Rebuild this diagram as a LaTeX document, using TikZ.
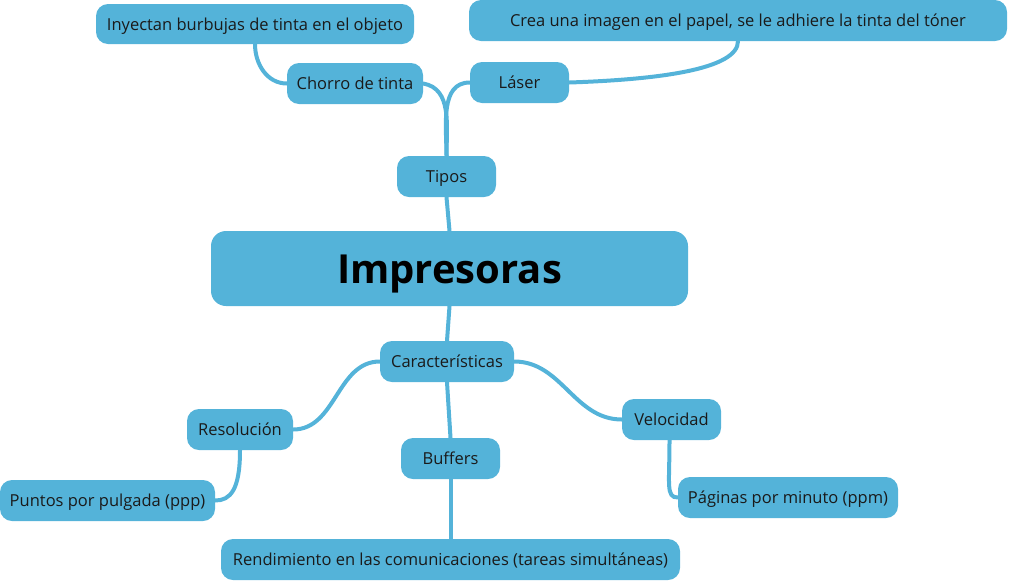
\documentclass[tikz,border=0pt]{standalone}
\usepackage{fontspec}
\setmainfont{Open Sans}
\definecolor{boxblue}{HTML}{54B3D9}
\definecolor{inkgray}{HTML}{1A1A1A}
\tikzset{
  topic/.style={fill=boxblue, rounded corners=12pt, inner sep=0pt, minimum height=41pt,
    text height=13pt, text depth=1pt, text=inkgray, font=\fontsize{16.5}{19}\selectfont},
  link/.style={draw=boxblue, line width=4pt, line cap=round}
}
\begin{document}
\begin{tikzpicture}[x=1pt, y=-1pt]
  \useasboundingbox (0,0) rectangle (1009,582);
  % central topic
  \node[topic, minimum width=477pt, minimum height=75pt, rounded corners=15pt, text height=29pt, text depth=0pt,
    text=black, font=\fontsize{40}{48}\selectfont\bfseries] (impresoras) at (449.5,268.5) {Impresoras};
  % tipos
  \node[topic, minimum width=99pt] (tipos) at (446.5,176.5) {Tipos};
  \node[topic, minimum width=136pt] (chorro) at (355,83.5) {Chorro de tinta};
  \node[topic, minimum width=99pt] (laser) at (519.5,82.5) {Láser};
  \node[topic, minimum width=318pt, minimum height=40pt] (inyectan) at (255,24) {Inyectan burbujas de tinta en el objeto};
  \node[topic, minimum width=538pt] (crea) at (738,20.5) {Crea una imagen en el papel, se le adhiere la tinta del tóner};
  % caracteristicas
  \node[topic, minimum width=134pt] (caract) at (447,361.5) {Características};
  \node[topic, minimum width=106pt] (resol) at (240,429.5) {Resolución};
  \node[topic, minimum width=99pt] (veloc) at (671.5,419.5) {Velocidad};
  \node[topic, minimum width=99pt] (buffers) at (450.5,458.5) {Buffers};
  \node[topic, minimum width=215pt] (puntos) at (107.5,500.5) {Puntos por pulgada (ppp)};
  \node[topic, minimum width=220pt] (paginas) at (788,497.5) {Páginas por minuto (ppm)};
  \node[topic, minimum width=459pt] (rend) at (450.5,559.5) {Rendimiento en las comunicaciones (tareas simultáneas)};
  % connectors
  \draw[link] (impresoras.north) -- (tipos.south);
  \draw[link] (tipos.north) to[out=90, in=-10] (chorro.east);
  \draw[link] (tipos.north) to[out=90, in=180] (laser.west);
  \draw[link] (inyectan.south) to[out=-90, in=180] (chorro.west);
  \draw[link] (crea.south) .. controls +(0,28) and +(90,-3) .. (laser.east);
  \draw[link] (impresoras.south) -- (caract.north);
  \draw[link] (caract.west) to[out=180, in=0] (resol.east);
  \draw[link] (caract.east) to[out=0, in=180] (veloc.west);
  \draw[link] (caract.south) -- (buffers.north);
  \draw[link] (resol.south) .. controls +(0,40) and +(15,0) .. (puntos.east);
  \draw[link] ([xshift=-2pt]veloc.south) .. controls +(0,45) and +(-12,0) .. (paginas.west);
  \draw[link] (buffers.south) -- (rend.north);
\end{tikzpicture}
\end{document}
